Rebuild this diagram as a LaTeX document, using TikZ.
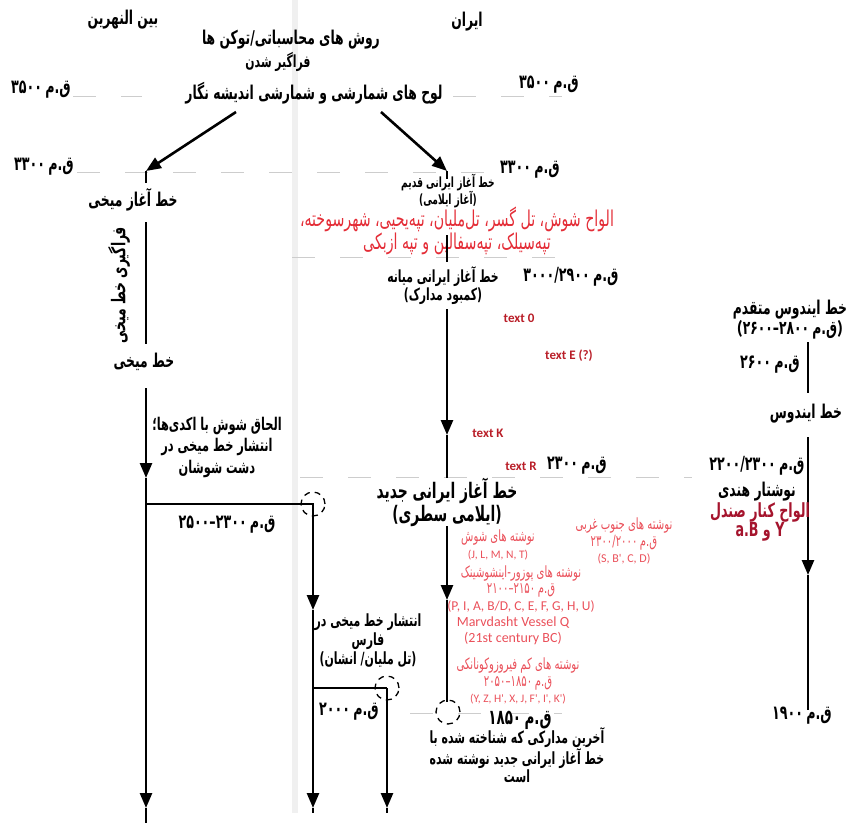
\documentclass[tikz,border=0pt]{standalone}
\usepackage{fontspec}
\usepackage{xcolor}
\usepackage{tikz}
\usetikzlibrary{arrows.meta}
\TeXXeTstate=1
\setmainfont{DejaVu Sans}
\newfontfamily\arabicfont[Script=Arabic, FakeStretch=0.65]{DejaVu Sans}
\newfontfamily\latinfont{Carlito}
\definecolor{fared}{RGB}{228,45,55}
\definecolor{lightred}{RGB}{234,80,90}
\definecolor{darkred}{RGB}{185,30,40}
\definecolor{sandalred}{RGB}{165,20,45}
\definecolor{guide}{RGB}{205,205,205}
\definecolor{band}{RGB}{240,240,240}
\newcommand{\fa}[1]{\beginR #1\endR}
\newcommand{\qm}[1]{\beginR ق.م\,\beginL #1\endL\endR}
\newcommand{\fsz}[2]{\fontsize{#1}{#2}\selectfont}

\begin{document}
\begin{tikzpicture}[x=1pt, y=-1pt, line width=2.6pt, >={Triangle[width=12pt,length=15pt]},
	fa/.style={font=\arabicfont\bfseries\fsz{19}{23}, align=center, inner sep=1pt},
	date/.style={font=\arabicfont\bfseries\fsz{19.5}{22}, inner sep=1pt},
	note/.style={font=\arabicfont\fsz{15.5}{16.5}, text=lightred, align=center, inner sep=1pt},
	tag/.style={font=\latinfont\bfseries\fsz{13}{15}, text=darkred, inner sep=1pt},
	guideline/.style={draw=guide, line width=1pt, dash pattern=on 23pt off 25pt},
	marker/.style={draw, line width=1.3pt, dash pattern=on 6pt off 5pt}]
	\useasboundingbox (0,0) rectangle (847,823);

	\draw[band, line width=6pt] (295,0) -- (295,813);
	\draw[guideline] (73,96) -- (142,96);
	\draw[guideline] (453,96) -- (562,96);
	\draw[guideline] (77,172) -- (495,172);
	\draw[guideline] (292,257) -- (580,257);
	\draw[guideline] (300,477) -- (692,477);
	\draw[guideline] (410,713) -- (562,713);

	\node[fa] (mesoHead) at (123,20) {\fa{بین النهرین}};
	\node[fa] (iranHead) at (467,22) {\fa{ایران}};
	\node[fa] (tokens) at (291,40) {\fa{روش های محاسباتی/توکن ها}};
	\node[fa, font=\arabicfont\bfseries\fsz{16.7}{20}] (spread) at (278,62) {\fa{فراگیر شدن}};
	\node[fa] (tablets) at (314,93) {\fa{لوح های شمارشی و شمارشی اندیشه نگار}};

	\node[date] (d3500a) at (41,90) {\qm{۳۵۰۰}};
	\node[date] (d3500b) at (549,85) {\qm{۳۵۰۰}};
	\node[date] (d3300a) at (44,167) {\qm{۳۳۰۰}};
	\node[date] (d3300b) at (530,170) {\qm{۳۳۰۰}};

	\coordinate (tabL) at (236,112);
	\coordinate (tabR) at (381,112);
	\coordinate (cuneiTip) at (146,171);
	\coordinate (oldTip) at (447,171);
	\draw[->] (tabL) -- (cuneiTip);
	\draw[->] (tabR) -- (oldTip);

	% Mesopotamia
	\node[fa] (cuneiStart) at (133,200) {\fa{خط آغاز میخی}};
	\node[fa] (cunei) at (144,362) {\fa{خط میخی}};
	\node[fa, rotate=90] (learning) at (119,285) {\fa{فراگیری خط میخی}};
	\coordinate (cuneiTick) at (146,183);
	\coordinate (learnTop) at (146,222);
	\coordinate (learnBottom) at (146,344);
	\draw (cuneiTip) -- (cuneiTick);
	\draw (learnTop) -- (learnBottom);

	\coordinate (susaTop) at (146,388);
	\coordinate (akkadArrow) at (146,478);
	\coordinate (corner1) at (146,504);
	\coordinate (susaBottom) at (146,808);
	\coordinate (susaEnd) at (146,823);
	\coordinate (fork1) at (313,504);
	\coordinate (farsArrow) at (313,610);
	\coordinate (farsBottom) at (313,808);
	\coordinate (farsEnd) at (313,813);
	\coordinate (fork2) at (313,688);
	\coordinate (anshan) at (387,688);
	\coordinate (anshanBottom) at (387,808);
	\coordinate (anshanEnd) at (387,813);
	\draw[->] (susaTop) -- (akkadArrow);
	\draw[->] (akkadArrow) -- (susaBottom);
	\draw (susaBottom) -- (susaEnd);
	\draw[->] (corner1) -- (fork1) -- (farsArrow);
	\draw[->] (farsArrow) -- (farsBottom);
	\draw (farsBottom) -- (farsEnd);
	\draw (fork2) -- (anshan);
	\draw[->] (anshan) -- (anshanBottom);
	\draw (anshanBottom) -- (anshanEnd);
	\draw[marker] (fork1) circle[radius=12pt];
	\draw[marker] (anshan) circle[radius=12pt];

	\node[fa, font=\arabicfont\bfseries\fsz{17.5}{21.5}] (akkad) at (217,447) {\fa{الحاق شوش با اکدی‌ها؛}\\\fa{انتشار خط میخی در}\\\fa{دشت شوشان}};
	\node[date] (rangeA) at (227,525) {\qm{۲۵۰۰\kern0pt–\kern0pt۲۳۰۰}};
	\node[fa, font=\arabicfont\bfseries\fsz{16.8}{19}] (fars) at (368,641) {\fa{انتشار خط میخی در}\\\fa{فارس}\\\fa{(تل ملیان/ انشان)}};
	\node[date] (d2000) at (349,712) {\qm{۲۰۰۰}};

	% Iran
	\node[fa, font=\arabicfont\bfseries\fsz{14}{15}, inner sep=0pt] (oldStart) at (448,191) {\fa{خط آغاز ایرانی قدیم}\\\fa{(آغاز ایلامی)}};
	\coordinate (oldTick) at (447,179);
	\draw (oldTip) -- (oldTick);
	\node[font=\arabicfont\fsz{21.8}{23}, text=fared, align=center, inner sep=0pt] (oldTablets) at (457,231) {\fa{الواح شوش، تل گسر، تل‌ملیان، تپه‌یحیی، شهرسوخته،}\\\fa{تپه‌سیلک، تپه‌سفالین و تپه ازبکی}};
	\coordinate (oldLineA) at (447,235);
	\coordinate (oldLineB) at (447,262);
	\draw (oldLineA) -- (oldLineB);

	\node[fa, font=\arabicfont\bfseries\fsz{16.7}{18}] (midStart) at (443,286) {\fa{خط آغاز ایرانی میانه}\\\fa{(کمبود مدارک)}};
	\node[date] (d3000) at (571,277) {\qm{۳۰۰۰\kern0pt/\kern0pt۲۹۰۰}};
	\coordinate (midTop) at (447,309);
	\coordinate (midArrow) at (447,435);
	\coordinate (midEnd) at (447,478);
	\draw[->] (midTop) -- (midArrow);
	\draw (midArrow) -- (midEnd);

	\node[tag] (text0) at (519,318) {text 0};
	\node[tag] (textE) at (569,356) {text E (?)};
	\node[tag] (textK) at (488,433) {text K};
	\node[tag] (textR) at (521,466) {text R};
	\node[date] (d2300) at (577,466) {\qm{۲۳۰۰}};

	\node[fa, font=\arabicfont\bfseries\fsz{21.4}{23}] (newStart) at (447,502) {\fa{خط آغاز ایرانی جدید}\\\fa{(ایلامی سطری)}};
	\coordinate (newTop) at (447,526);
	\coordinate (newArrow) at (447,600);
	\coordinate (newEnd) at (447,702);
	\draw[->] (newTop) -- (newArrow);
	\draw (newArrow) -- (newEnd);
	\draw[marker] (448,712) circle[radius=12pt];

	\node[note] (susaNote) at (498,545) {\fa{نوشته های شوش}\\{\latinfont\fsz{11.5}{14}(J, L, M, N, T)}};
	\node[note] (swNote) at (624,541) {\fa{نوشته های جنوب غربی}\\\qm{۲۳۰۰\kern0pt/\kern0pt۲۰۰۰}\\{\latinfont\fsz{12}{14}(S, B', C, D)}};
	\node[note] (puzurNote) at (521,589) {\fa{نوشته های پوزور-اینشوشینک}\\\qm{۲۱۰۰\kern0pt–\kern0pt۲۱۵۰}\\{\latinfont\fsz{13.5}{15}(P, I, A, B/D, C, E, F, G, H, U)}};
	\node[note, font=\latinfont\fsz{14}{16}] (vessel) at (513,631) {Marvdasht Vessel Q\\(21st century BC)};
	\node[note] (kamNote) at (518,681) {\fa{نوشته های کم فیروزوکونانکی}\\\qm{۲۰۵۰\kern0pt–\kern0pt۱۸۵۰}\\{\latinfont\fsz{11.5}{14}(Y, Z, H', X, J, F', I', K')}};

	\node[date, font=\arabicfont\bfseries\fsz{20.7}{22}] (d1850) at (520,720) {\qm{۱۸۵۰}};
	\node[fa, font=\arabicfont\bfseries\fsz{16.8}{18}] (lastDocs) at (517,755) {\fa{آخرین مدارکی که شناخته شده با}\\\fa{خط آغاز ایرانی جدید نوشته شده}\\\fa{است}};

	% Indus
	\node[fa, font=\arabicfont\bfseries\fsz{19}{20}] (indusEarly) at (790,320) {\fa{خط ایندوس متقدم}\\{\latinfont\bfseries(}\qm{۲۶۰۰\kern0pt–\kern0pt۲۸۰۰}{\latinfont\bfseries)}};
	\node[date] (d2600) at (770,365) {\qm{۲۶۰۰}};
	\node[fa] (indus) at (806,414) {\fa{خط ایندوس}};
	\coordinate (indusA) at (808,342);
	\coordinate (indusB) at (808,393);
	\coordinate (indusC) at (808,437);
	\coordinate (indusArrow) at (808,575);
	\coordinate (indusEnd) at (808,710);
	\draw (indusA) -- (indusB);
	\draw[->] (indusC) -- (indusArrow);
	\draw (indusArrow) -- (indusEnd);
	\node[date] (d2200) at (757,466) {\qm{۲۲۰۰\kern0pt/\kern0pt۲۳۰۰}};
	\node[fa] (indian) at (757,492) {\fa{نوشتار هندی}};
	\node[fa, font=\arabicfont\bfseries\fsz{19.5}{19}, text=sandalred] (sandal) at (760,522) {\fa{الواح کنار صندل}\\\fa{Y و a.B}};
	\node[date] (d1900) at (802,716) {\qm{۱۹۰۰}};
\end{tikzpicture}
\end{document}
